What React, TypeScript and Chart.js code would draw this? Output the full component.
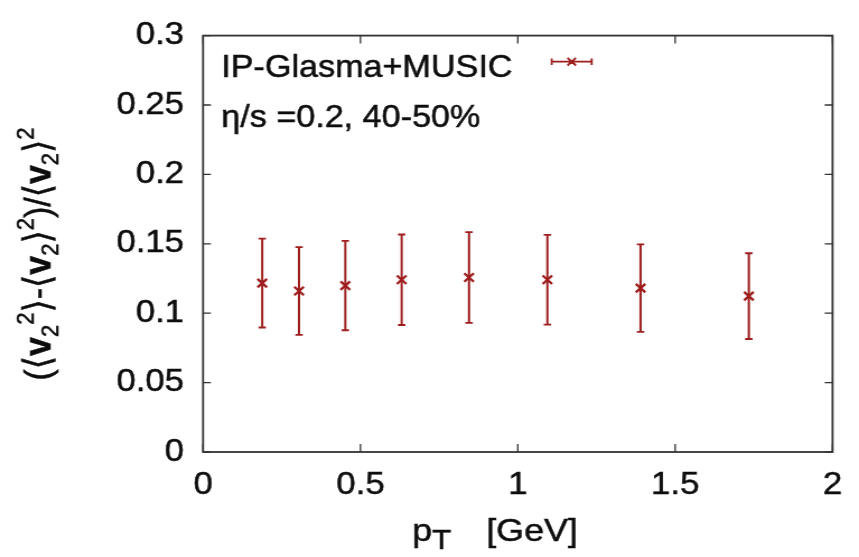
import React, { useEffect, useRef } from 'react';
import { Chart, registerables } from 'chart.js';

Chart.register(...registerables);

// ---- data ----
const pT = [0.188, 0.305, 0.452, 0.631, 0.845, 1.094, 1.39, 1.734];
const ratio = [0.1217, 0.116, 0.1199, 0.1241, 0.1257, 0.1241, 0.1181, 0.1123];
const ratioErr = [0.032, 0.0316, 0.0322, 0.0326, 0.0327, 0.0324, 0.0315, 0.0309];

const xTickValues = [0, 0.5, 1, 1.5, 2];
const xTickLabels = ['0', '0.5', '1', '1.5', '2'];
const yTickValues = [0, 0.05, 0.1, 0.15, 0.2, 0.25, 0.3];
const yTickLabels = ['0', '0.05', '0.1', '0.15', '0.2', '0.25', '0.3'];

const seriesLabel = 'IP-Glasma+MUSIC';
const noteLabel = 'η/s =0.2, 40-50%';

// ---- layout ----
const OUT_W = 859;
const H = 557;
const S = 1.12; // horizontal stretch of the reference picture
const W = Math.round(OUT_W / S);
const SX = OUT_W / W;

const RED = 'rgb(158,30,30)';
const FRAME = '#333';
const INK = '#0d0d0d';
const FAMILY = "'Liberation Sans', Arial, 'DejaVu Sans', sans-serif";

type Seg = { t: string; size: number; dy?: number; bold?: boolean };

function font(size: number, bold?: boolean) {
  return `${bold ? 'bold ' : ''}${size}px ${FAMILY}`;
}

function richWidth(ctx: CanvasRenderingContext2D, segs: Seg[]) {
  let w = 0;
  for (const s of segs) {
    ctx.font = font(s.size, s.bold);
    w += ctx.measureText(s.t).width;
  }
  return w;
}

function drawRich(ctx: CanvasRenderingContext2D, segs: Seg[], x: number, y: number) {
  let cx = x;
  ctx.textBaseline = 'alphabetic';
  ctx.textAlign = 'left';
  for (const s of segs) {
    ctx.font = font(s.size, s.bold);
    ctx.fillText(s.t, cx, y + (s.dy || 0));
    ctx.strokeText(s.t, cx, y + (s.dy || 0));
    cx += ctx.measureText(s.t).width;
  }
}

const yTitle: Seg[] = [
  { t: '(', size: 34 },
  { t: '⟨', size: 34 },
  { t: 'v', size: 34, bold: true },
  { t: '2', size: 22, dy: 7 },
  { t: '2', size: 22, dy: -15 },
  { t: '⟩', size: 34 },
  { t: '-', size: 34 },
  { t: '⟨', size: 34 },
  { t: 'v', size: 34, bold: true },
  { t: '2', size: 22, dy: 7 },
  { t: '⟩', size: 34 },
  { t: '2', size: 22, dy: -15 },
  { t: ')', size: 34 },
  { t: '/', size: 34 },
  { t: '⟨', size: 34 },
  { t: 'v', size: 34, bold: true },
  { t: '2', size: 22, dy: 7 },
  { t: '⟩', size: 34 },
  { t: '2', size: 22, dy: -15 },
];

const xTitleMain: Seg[] = [
  { t: 'p', size: 32 },
  { t: 'T', size: 28, dy: 8 },
];
const xTitleUnit = '[GeV]';

const decorPlugin = {
  id: 'decor',
  afterDatasetsDraw(chart: any) {
    const ctx: CanvasRenderingContext2D = chart.ctx;
    const xs = chart.scales.x;
    const ys = chart.scales.y;
    const area = chart.chartArea;
    ctx.save();
    // error bars
    ctx.strokeStyle = RED;
    for (let i = 0; i < pT.length; i++) {
      const px = xs.getPixelForValue(pT[i]);
      const yHi = ys.getPixelForValue(ratio[i] + ratioErr[i]);
      const yLo = ys.getPixelForValue(ratio[i] - ratioErr[i]);
      ctx.lineWidth = 2;
      ctx.beginPath();
      ctx.moveTo(px, yHi);
      ctx.lineTo(px, yLo);
      ctx.stroke();
      ctx.lineWidth = 1.8;
      ctx.beginPath();
      ctx.moveTo(px - 3.3, yHi);
      ctx.lineTo(px + 3.3, yHi);
      ctx.moveTo(px - 3.3, yLo);
      ctx.lineTo(px + 3.3, yLo);
      ctx.stroke();
    }
    // frame
    ctx.strokeStyle = FRAME;
    ctx.lineWidth = 1.8;
    ctx.strokeRect(area.left, area.top, area.right - area.left, area.bottom - area.top);
    // inward ticks on all four sides
    ctx.lineWidth = 1.3;
    ctx.beginPath();
    for (const v of xTickValues) {
      const px = xs.getPixelForValue(v);
      ctx.moveTo(px, area.bottom);
      ctx.lineTo(px, area.bottom - 8);
      ctx.moveTo(px, area.top);
      ctx.lineTo(px, area.top + 8);
    }
    for (const v of yTickValues) {
      const py = ys.getPixelForValue(v);
      ctx.moveTo(area.left, py);
      ctx.lineTo(area.left + 7, py);
      ctx.moveTo(area.right, py);
      ctx.lineTo(area.right - 7, py);
    }
    ctx.stroke();

    // legend
    ctx.fillStyle = INK;
    ctx.strokeStyle = INK;
    ctx.lineWidth = 0.5;
    ctx.font = font(30.5);
    ctx.textAlign = 'left';
    ctx.textBaseline = 'alphabetic';
    ctx.fillText(seriesLabel, 197.5, 76.7);
    ctx.strokeText(seriesLabel, 197.5, 76.7);
    ctx.fillText(noteLabel, 197.5, 126.7);
    ctx.strokeText(noteLabel, 197.5, 126.7);
    // legend sample
    const lx0 = 492.6, lx1 = 528.3, ly = 61.7, lxc = (lx0 + lx1) / 2;
    ctx.strokeStyle = RED;
    ctx.lineWidth = 1.8;
    ctx.beginPath();
    ctx.moveTo(lx0, ly);
    ctx.lineTo(lx1, ly);
    ctx.moveTo(lx0, ly - 3.3);
    ctx.lineTo(lx0, ly + 3.3);
    ctx.moveTo(lx1, ly - 3.3);
    ctx.lineTo(lx1, ly + 3.3);
    const r = 3.8;
    ctx.moveTo(lxc - r, ly - r);
    ctx.lineTo(lxc + r, ly + r);
    ctx.moveTo(lxc - r, ly + r);
    ctx.lineTo(lxc + r, ly - r);
    ctx.stroke();

    // x title
    ctx.fillStyle = INK;
    ctx.strokeStyle = INK;
    ctx.lineWidth = 0.5;
    drawRich(ctx, xTitleMain, 368, 541);
    ctx.font = font(32);
    ctx.textAlign = 'right';
    ctx.fillText(xTitleUnit, 516, 541);
    ctx.strokeText(xTitleUnit, 516, 541);

    // y title (rotated)
    const yw = richWidth(ctx, yTitle);
    ctx.save();
    ctx.translate(44.6, 254 + yw / 2);
    ctx.rotate(-Math.PI / 2);
    drawRich(ctx, yTitle, 0, 0);
    ctx.restore();

    ctx.restore();
  },
};

export default function App() {
  const ref = useRef<HTMLCanvasElement | null>(null);

  useEffect(() => {
    if (!ref.current) return;
    const chart = new Chart(ref.current, {
      type: 'scatter',
      data: {
        datasets: [
          {
            label: seriesLabel,
            data: pT.map((x, i) => ({ x, y: ratio[i] })),
            pointStyle: 'crossRot',
            pointRadius: 6,
            pointBorderWidth: 2.3,
            borderColor: RED,
            backgroundColor: RED,
            showLine: false,
          },
        ],
      },
      options: {
        responsive: false,
        animation: false,
        events: [],
        layout: { padding: { left: 0, top: 19.5, right: W - 744.6, bottom: 0 } },
        plugins: {
          legend: { display: false },
          tooltip: { enabled: false },
        },
        scales: {
          x: {
            type: 'linear',
            min: 0,
            max: 2,
            grid: { display: false, drawTicks: false },
            border: { display: false },
            afterBuildTicks: (scale: any) => {
              scale.ticks = xTickValues.map((v) => ({ value: v }));
            },
            afterFit: (scale: any) => {
              scale.height = H - 452;
            },
            ticks: {
              padding: 15,
              color: INK,
              textStrokeColor: INK,
              textStrokeWidth: 0.5,
              font: { family: FAMILY, size: 31 },
              callback: (_v: any, i: number) => xTickLabels[i],
            },
          },
          y: {
            type: 'linear',
            min: 0,
            max: 0.3,
            grid: { display: false, drawTicks: false },
            border: { display: false },
            afterBuildTicks: (scale: any) => {
              scale.ticks = yTickValues.map((v) => ({ value: v }));
            },
            afterFit: (scale: any) => {
              scale.width = 181.3;
            },
            ticks: {
              padding: 17,
              color: INK,
              textStrokeColor: INK,
              textStrokeWidth: 0.5,
              font: { family: FAMILY, size: 31 },
              callback: (_v: any, i: number) => yTickLabels[i],
            },
          },
        },
      },
      plugins: [decorPlugin],
    });
    return () => chart.destroy();
  }, []);

  return (
    <div
      style={{
        position: 'absolute',
        left: 0,
        top: 0,
        width: OUT_W,
        height: H,
        overflow: 'hidden',
        background: '#fff',
      }}
    >
      <canvas
        ref={ref}
        width={W}
        height={H}
        style={{
          display: 'block',
          width: W,
          height: H,
          transform: `scaleX(${SX})`,
          transformOrigin: '0 0',
        }}
      />
    </div>
  );
}
